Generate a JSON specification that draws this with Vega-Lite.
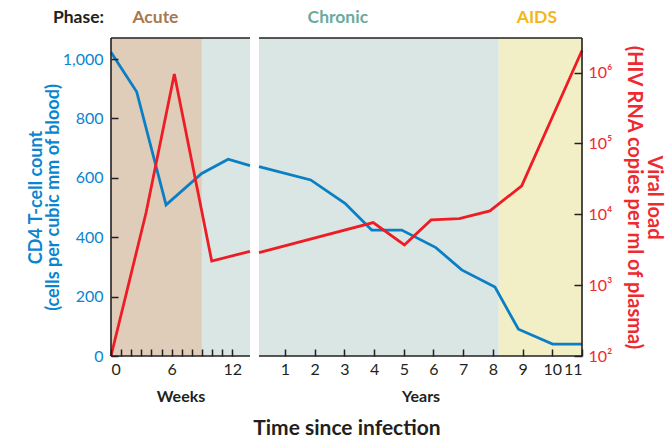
{
  "$schema": "https://vega.github.io/schema/vega-lite/v6.json",
  "background": "white",
  "padding": {"left": 27, "top": 8, "right": 2, "bottom": 5},
  "title": {"text": "Time since infection", "orient": "bottom", "anchor": "start", "dx": 226, "fontSize": 21, "fontWeight": "bold", "color": "#231f20", "offset": 14, "font": "Lato"},
  "datasets": {
    "phasesW": [{"t": 0, "t2": 9, "phase": "Acute"}, {"t": 9, "t2": 13.76, "phase": "Chronic"}],
    "phasesY": [{"t": 0.125, "t2": 8.2, "phase": "Chronic"}, {"t": 8.2, "t2": 11, "phase": "AIDS"}],
    "cd4w": [{"t": 0, "v": 1023}, {"t": 2.54, "v": 890}, {"t": 5.45, "v": 509}, {"t": 8.98, "v": 615}, {"t": 11.6, "v": 663}, {"t": 13.76, "v": 641}],
    "vlw": [{"t": 0, "v": 100}, {"t": 3.47, "v": 10500}, {"t": 6.27, "v": 955000}, {"t": 9.97, "v": 2190}, {"t": 13.76, "v": 3000}],
    "cd4y": [{"t": 0.125, "v": 638}, {"t": 1.865, "v": 593}, {"t": 3.02, "v": 514}, {"t": 3.92, "v": 424}, {"t": 4.93, "v": 424}, {"t": 6.08, "v": 365}, {"t": 6.95, "v": 290}, {"t": 8.07, "v": 232}, {"t": 8.86, "v": 90}, {"t": 10.01, "v": 40}, {"t": 11, "v": 40}],
    "vly": [{"t": 0.125, "v": 2880}, {"t": 3.97, "v": 7640}, {"t": 5.02, "v": 3700}, {"t": 5.92, "v": 8340}, {"t": 6.87, "v": 8690}, {"t": 7.9, "v": 11170}, {"t": 8.97, "v": 25200}, {"t": 11, "v": 2050000}]
  },
  "spacing": -3,
  "hconcat": [
    {
      "width": 139,
      "height": 318,
      "layer": [
        {
          "data": {"name": "phasesW"},
          "mark": {"type": "rect"},
          "encoding": {
            "x": {"field": "t", "type": "quantitative", "scale": {"domain": [0, 13.76], "nice": false, "zero": false},
                  "axis": {"title": "Weeks", "zindex": 1, "offset": -7, "tickSize": 7, "tickCount": 40, "format": "d", "domain": false, "values": [0,1,2,3,4,5,6,7,8,9,10,11,12], "labelExpr": "datum.value % 6 === 0 ? datum.label : ''", "labelOverlap": false, "labelPadding": 5, "titlePadding": 11}},
            "x2": {"field": "t2"},
            "color": {"field": "phase", "type": "nominal", "scale": {"domain": ["Acute", "Chronic", "AIDS"], "range": ["#dfcdba", "#dae6e3", "#f2efc7"]}, "legend": null}
          }
        },
        {
          "data": {"name": "cd4w"},
          "mark": {"type": "line", "color": "#0a7fc4", "strokeWidth": 2.8, "strokeJoin": "miter"},
          "encoding": {
            "x": {"field": "t", "type": "quantitative", "scale": {"domain": [0, 13.76], "nice": false, "zero": false},
                  "axis": {"title": "Weeks", "zindex": 1, "offset": -7, "tickSize": 7, "tickCount": 40, "format": "d", "domain": false, "values": [0,1,2,3,4,5,6,7,8,9,10,11,12], "labelExpr": "datum.value % 6 === 0 ? datum.label : ''", "labelOverlap": false, "labelPadding": 5, "titlePadding": 11}},
            "y": {"field": "v", "type": "quantitative", "scale": {"domain": [0, 1071], "nice": false},
                  "axis": {"orient": "left", "zindex": 1, "offset": -7, "tickSize": 7, "tickCount": 40, "domain": false, "values": [0, 200, 400, 600, 800, 1000], "format": ",d", "labelColor": "#0a85cf", "labelPadding": 8, "labelOverlap": false,
                           "title": ["CD4 T-cell count", "(cells per cubic mm of blood)"], "titleColor": "#0a85cf", "titleFontSize": 18, "titleLineHeight": 17, "titlePadding": 0}}
          }
        },
        {
          "data": {"name": "vlw"},
          "mark": {"type": "line", "color": "#ee1c25", "strokeWidth": 2.8, "strokeJoin": "miter"},
          "encoding": {
            "x": {"field": "t", "type": "quantitative", "scale": {"domain": [0, 13.76], "nice": false, "zero": false},
                  "axis": {"title": "Weeks", "zindex": 1, "offset": -7, "tickSize": 7, "tickCount": 40, "format": "d", "domain": false, "values": [0,1,2,3,4,5,6,7,8,9,10,11,12], "labelExpr": "datum.value % 6 === 0 ? datum.label : ''", "labelOverlap": false, "labelPadding": 5, "titlePadding": 11}},
            "y": {"field": "v", "type": "quantitative", "scale": {"type": "log", "domain": [100, 3080000], "nice": false}, "axis": null}
          }
        },
        {
          "data": {"values": [{}]},
          "mark": {"type": "rule", "color": "#231f20", "strokeWidth": 1.6},
          "encoding": {"y": {"datum": 1071, "type": "quantitative", "scale": {"domain": [0, 1071], "nice": false}, "axis": null}}
        },
        {
          "data": {"values": [{}]},
          "mark": {"type": "rule", "color": "#231f20", "strokeWidth": 1.6},
          "encoding": {"y": {"datum": 0, "type": "quantitative", "scale": {"domain": [0, 1071], "nice": false}, "axis": null}}
        },
        {
          "data": {"values": [{}]},
          "mark": {"type": "rule", "color": "#231f20", "strokeWidth": 1.6},
          "encoding": {"x": {"datum": 0, "type": "quantitative", "scale": {"domain": [0, 13.76], "nice": false, "zero": false},
                  "axis": {"title": "Weeks", "zindex": 1, "offset": -7, "tickSize": 7, "tickCount": 40, "format": "d", "domain": false, "values": [0,1,2,3,4,5,6,7,8,9,10,11,12], "labelExpr": "datum.value % 6 === 0 ? datum.label : ''", "labelOverlap": false, "labelPadding": 5, "titlePadding": 11}}}
        },
        {
          "data": {"values": [{}]},
          "mark": {"type": "text", "text": "Phase:", "align": "right", "baseline": "middle", "fontSize": 17.5, "fontWeight": "bold", "color": "#231f20"},
          "encoding": {
            "x": {"datum": -0.69, "type": "quantitative", "scale": {"domain": [0, 13.76], "nice": false, "zero": false}},
            "y": {"datum": 1139, "type": "quantitative", "scale": {"domain": [0, 1071], "nice": false}, "axis": null}
          }
        },
        {
          "data": {"values": [{}]},
          "mark": {"type": "text", "text": "Acute", "align": "center", "baseline": "middle", "fontSize": 17.5, "fontWeight": "bold", "color": "#a8784e"},
          "encoding": {
            "x": {"datum": 4.4, "type": "quantitative", "scale": {"domain": [0, 13.76], "nice": false, "zero": false}},
            "y": {"datum": 1139, "type": "quantitative", "scale": {"domain": [0, 1071], "nice": false}, "axis": null}
          }
        }
      ],
      "resolve": {"scale": {"y": "independent"}}
    },
    {
      "width": 323,
      "height": 318,
      "layer": [
        {
          "data": {"name": "phasesY"},
          "mark": {"type": "rect"},
          "encoding": {
            "x": {"field": "t", "type": "quantitative", "scale": {"domain": [0.125, 11], "nice": false, "zero": false},
                  "axis": {"title": "Years", "zindex": 1, "offset": -7, "tickSize": 7, "tickCount": 40, "format": "d", "domain": false, "values": [1,2,3,4,5,6,7,8,9,10,11], "labelOverlap": false, "labelPadding": 5, "titlePadding": 11}},
            "x2": {"field": "t2"},
            "color": {"field": "phase", "type": "nominal", "scale": {"domain": ["Acute", "Chronic", "AIDS"], "range": ["#dfcdba", "#dae6e3", "#f2efc7"]}, "legend": null}
          }
        },
        {
          "data": {"name": "cd4y"},
          "mark": {"type": "line", "color": "#0a7fc4", "strokeWidth": 2.8, "strokeJoin": "miter"},
          "encoding": {
            "x": {"field": "t", "type": "quantitative", "scale": {"domain": [0.125, 11], "nice": false, "zero": false},
                  "axis": {"title": "Years", "zindex": 1, "offset": -7, "tickSize": 7, "tickCount": 40, "format": "d", "domain": false, "values": [1,2,3,4,5,6,7,8,9,10,11], "labelOverlap": false, "labelPadding": 5, "titlePadding": 11}},
            "y": {"field": "v", "type": "quantitative", "scale": {"domain": [0, 1071], "nice": false}, "axis": null}
          }
        },
        {
          "data": {"name": "vly"},
          "mark": {"type": "line", "color": "#ee1c25", "strokeWidth": 2.8, "strokeJoin": "miter"},
          "encoding": {
            "x": {"field": "t", "type": "quantitative", "scale": {"domain": [0.125, 11], "nice": false, "zero": false},
                  "axis": {"title": "Years", "zindex": 1, "offset": -7, "tickSize": 7, "tickCount": 40, "format": "d", "domain": false, "values": [1,2,3,4,5,6,7,8,9,10,11], "labelOverlap": false, "labelPadding": 5, "titlePadding": 11}},
            "y": {"field": "v", "type": "quantitative", "scale": {"type": "log", "domain": [100, 3080000], "nice": false},
                  "axis": {"orient": "right", "zindex": 1, "offset": -8, "tickSize": 8, "tickCount": 40, "domain": false, "values": [100, 1000, 10000, 100000, 1000000], "labelExpr": "'10' + ['⁰','¹','²','³','⁴','⁵','⁶'][round(log(datum.value) / LN10)]", "labelColor": "#ee2a2f", "labelPadding": 6, "labelOverlap": false,
                           "title": ["Viral load", "(HIV RNA copies per ml of plasma)"], "titleColor": "#ee2a2f", "titleFontSize": 20, "titleLineHeight": 20, "titlePadding": 12}}
          }
        },
        {
          "data": {"values": [{}]},
          "mark": {"type": "rule", "color": "#231f20", "strokeWidth": 1.6},
          "encoding": {"y": {"datum": 1071, "type": "quantitative", "scale": {"domain": [0, 1071], "nice": false}, "axis": null}}
        },
        {
          "data": {"values": [{}]},
          "mark": {"type": "rule", "color": "#231f20", "strokeWidth": 1.6},
          "encoding": {"y": {"datum": 0, "type": "quantitative", "scale": {"domain": [0, 1071], "nice": false}, "axis": null}}
        },
        {
          "data": {"values": [{}]},
          "mark": {"type": "rule", "color": "#231f20", "strokeWidth": 1.6},
          "encoding": {"x": {"datum": 11, "type": "quantitative", "scale": {"domain": [0.125, 11], "nice": false, "zero": false},
                  "axis": {"title": "Years", "zindex": 1, "offset": -7, "tickSize": 7, "tickCount": 40, "format": "d", "domain": false, "values": [1,2,3,4,5,6,7,8,9,10,11], "labelOverlap": false, "labelPadding": 5, "titlePadding": 11}}}
        },
        {
          "data": {"values": [{}]},
          "mark": {"type": "text", "text": "Chronic", "align": "center", "baseline": "middle", "fontSize": 17.5, "fontWeight": "bold", "color": "#6aab9c"},
          "encoding": {
            "x": {"datum": 2.78, "type": "quantitative", "scale": {"domain": [0.125, 11], "nice": false, "zero": false}},
            "y": {"datum": 1139, "type": "quantitative", "scale": {"domain": [0, 1071], "nice": false}, "axis": null}
          }
        },
        {
          "data": {"values": [{}]},
          "mark": {"type": "text", "text": "AIDS", "align": "center", "baseline": "middle", "fontSize": 17.5, "fontWeight": "bold", "color": "#f5b614"},
          "encoding": {
            "x": {"datum": 9.48, "type": "quantitative", "scale": {"domain": [0.125, 11], "nice": false, "zero": false}},
            "y": {"datum": 1139, "type": "quantitative", "scale": {"domain": [0, 1071], "nice": false}, "axis": null}
          }
        }
      ],
      "resolve": {"scale": {"y": "independent"}}
    }
  ],
  "config": {
    "font": "Lato",
    "view": {"stroke": null},
    "concat": {"spacing": -3},
    "axis": {
      "grid": false, "labelOverlap": false,
      "domainColor": "#231f20", "domainWidth": 1.6,
      "tickColor": "#231f20", "tickWidth": 1.5,
      "labelFont": "Lato", "labelFontSize": 16, "labelColor": "#231f20",
      "titleFont": "Lato", "titleFontSize": 16, "titleFontWeight": "bold", "titleColor": "#231f20"
    }
  }
}
